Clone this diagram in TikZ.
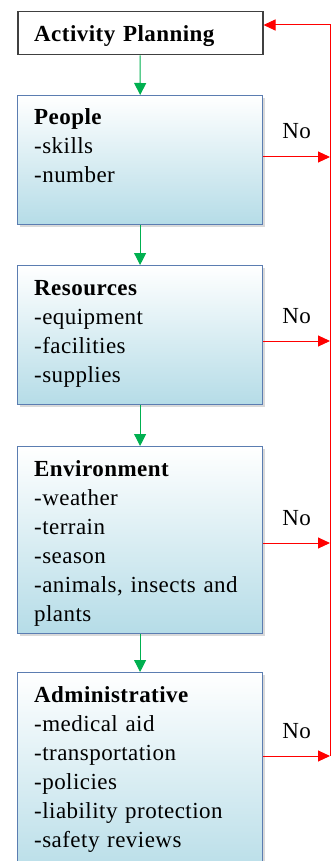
\documentclass[tikz,border=0pt]{standalone}
\usepackage{fontspec}
\setmainfont{Liberation Serif}[LetterSpace=2]
\usetikzlibrary{arrows.meta,shadows}

\definecolor{planline}{HTML}{404040}
\definecolor{boxline}{HTML}{5B7DB1}
\definecolor{boxfill}{HTML}{B5DCE7}
\definecolor{flowgreen}{HTML}{00B050}
\definecolor{backred}{HTML}{FF0000}

\tikzset{
  stepbox/.style={draw=boxline, line width=1.2pt, top color=white, bottom color=boxfill,
    minimum width=245pt, anchor=north west,
    drop shadow={shadow xshift=2pt, shadow yshift=-2pt, opacity=0.3}},
  steptext/.style={anchor=base west, text width=232pt, align=left, inner sep=0pt,
    font=\fontsize{23}{29}\selectfont},
  flowarrow/.style={draw=flowgreen, line width=1pt, -{Triangle[length=12pt,width=12pt]}},
  retarrow/.style={draw=backred, line width=1pt, -{Triangle[length=12pt,width=11pt]}},
  nolabel/.style={anchor=base, yshift=18pt, inner sep=0pt, font=\fontsize{23}{29}\selectfont}
}

\begin{document}
\begin{tikzpicture}[x=1pt,y=-1pt]
  \clip (0,0) rectangle (336,861);

  % boxes
  \node[draw=planline, line width=1.5pt, fill=white, minimum width=245pt,
    minimum height=43pt, anchor=north west] (plan) at (17,11) {};
  \node[stepbox, minimum height=129pt] (people) at (17,95) {};
  \node[stepbox, minimum height=139pt] (resources) at (17,265) {};
  \node[stepbox, minimum height=187pt] (environment) at (17,446) {};
  \node[stepbox, minimum height=210pt] (admin) at (17,672) {};

  % box texts
  \node[steptext] (plantext) at ([shift={(17pt,-31pt)}]plan.north west)
    {\textbf{Activity Planning}};
  \node[steptext] (peopletext) at ([shift={(17pt,-30pt)}]people.north west)
    {\textbf{People}\\-skills\\-number};
  \node[steptext] (resourcestext) at ([shift={(17pt,-30pt)}]resources.north west)
    {\textbf{Resources}\\-equipment\\-facilities\\-supplies};
  \node[steptext] (environmenttext) at ([shift={(17pt,-30pt)}]environment.north west)
    {\textbf{Environment}\\-weather\\-terrain\\-season\\-animals, insects and\\plants};
  \node[steptext] (admintext) at ([shift={(17pt,-30pt)}]admin.north west)
    {\textbf{Administrative}\\-medical aid\\-transportation\\-policies\\-liability protection\\-safety reviews};

  % forward flow
  \draw[flowarrow] (plan) -- (people);
  \draw[flowarrow] (people) -- (resources);
  \draw[flowarrow] (resources) -- (environment);
  \draw[flowarrow] (environment) -- (admin);

  % return line
  \coordinate (r0) at (330,25);
  \coordinate (r1) at (330,157);
  \coordinate (r2) at (330,341);
  \coordinate (r3) at (330,543);
  \coordinate (r4) at (330,756);
  \draw[retarrow] (r1 -| people.east) -- node[nolabel] (no1) {No} (r1);
  \draw[retarrow] (r2 -| resources.east) -- node[nolabel] (no2) {No} (r2);
  \draw[retarrow] (r3 -| environment.east) -- node[nolabel] (no3) {No} (r3);
  \draw[retarrow] (r4 -| admin.east) -- node[nolabel] (no4) {No} (r4);
  \draw[retarrow] (r4) -- (r0) -- (r0 -| plan.east);
\end{tikzpicture}
\end{document}
